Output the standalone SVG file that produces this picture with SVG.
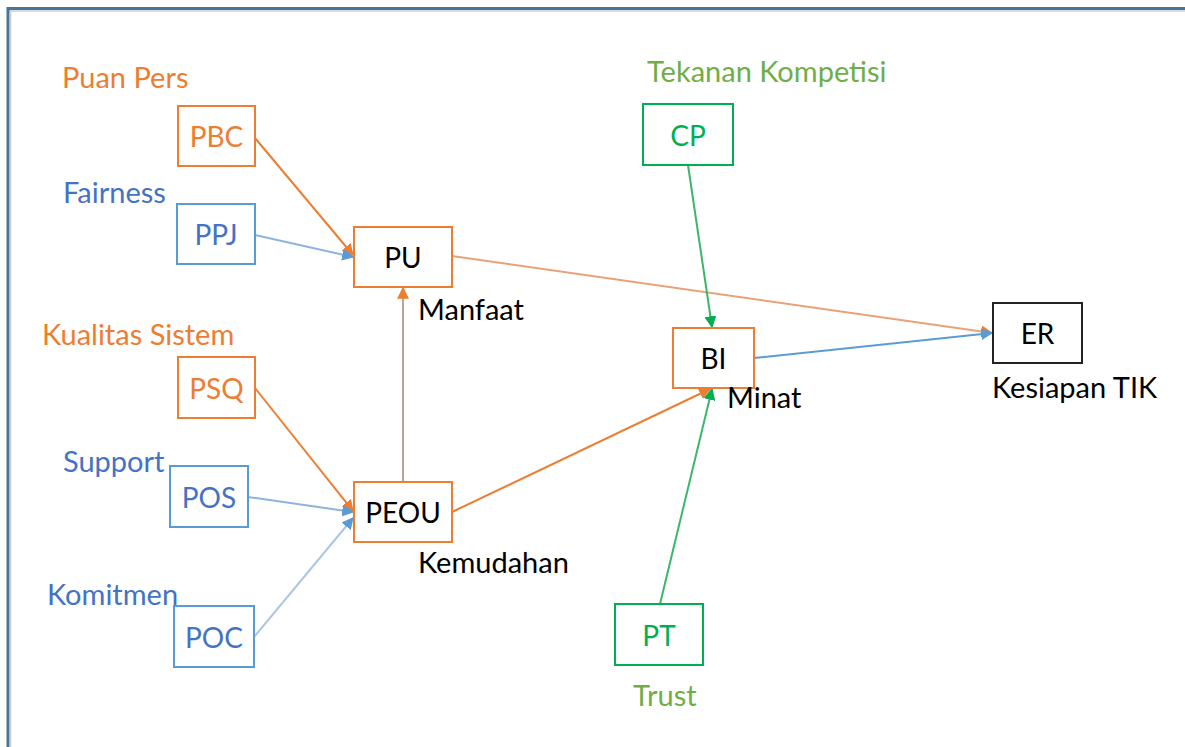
<svg xmlns="http://www.w3.org/2000/svg" width="1185" height="747" viewBox="0 0 1185 747">
  <style>
    text { font-family: Lato, "Open Sans", "Liberation Sans", sans-serif; }
    .box { fill: #ffffff; stroke-width: 2; }
    .or { stroke: #ed7d31; }
    .bl { stroke: #5b9bd5; }
    .gr { stroke: #00b050; }
    .bk { stroke: #222222; }
    .nt { font-size: 28px; text-anchor: middle; dominant-baseline: central; }
    .lbl { font-size: 29px; }
    .edge { fill: none; stroke-width: 2; }
  </style>
  <defs>
    <marker id="aOr" viewBox="0 0 10 10" refX="9" refY="5" markerWidth="6" markerHeight="6" orient="auto" markerUnits="strokeWidth">
      <path d="M0,0 L10,5 L0,10 z" fill="#ed7d31"/>
    </marker>
    <marker id="aBl" viewBox="0 0 10 10" refX="9" refY="5" markerWidth="6" markerHeight="6" orient="auto" markerUnits="strokeWidth">
      <path d="M0,0 L10,5 L0,10 z" fill="#5b9bd5"/>
    </marker>
    <marker id="aGr" viewBox="0 0 10 10" refX="9" refY="5" markerWidth="6" markerHeight="6" orient="auto" markerUnits="strokeWidth">
      <path d="M0,0 L10,5 L0,10 z" fill="#00b050"/>
    </marker>
  </defs>

  <rect width="1185" height="747" fill="#ffffff"/>
  <!-- frame -->
  <line x1="7" y1="8.5" x2="1185" y2="8.5" stroke="#4a7399" stroke-width="3"/>
  <line x1="7" y1="11" x2="1185" y2="11" stroke="#c8ccd2" stroke-width="1.5"/>
  <line x1="8" y1="7" x2="8" y2="747" stroke="#4a7399" stroke-width="3"/>
  <line x1="10.5" y1="11" x2="10.5" y2="747" stroke="#c8ccd2" stroke-width="1.5"/>

  <!-- connectors -->
  <g id="connectors">
    <line class="edge" x1="255" y1="138" x2="353" y2="255" stroke="#ed7d31" marker-end="url(#aOr)"/>
    <line class="edge" x1="255" y1="235" x2="353" y2="257" stroke="#8fb4dc" marker-end="url(#aBl)"/>
    <line class="edge" x1="403" y1="482" x2="403" y2="288" stroke="#b8a49a" marker-end="url(#aOr)"/>
    <line class="edge" x1="452" y1="256" x2="992" y2="333" stroke="#e8a27a" marker-end="url(#aOr)"/>
    <line class="edge" x1="688" y1="165" x2="712" y2="327" stroke="#3cb66a" stroke-width="1.5" marker-end="url(#aGr)"/>
    <line class="edge" x1="452" y1="512" x2="710" y2="389" stroke="#ed7d31" marker-end="url(#aOr)"/>
    <line class="edge" x1="660" y1="604" x2="712" y2="389" stroke="#3cb66a" stroke-width="1.5" marker-end="url(#aGr)"/>
    <line class="edge" x1="754" y1="358" x2="992" y2="333" stroke="#5b9bd5" marker-end="url(#aBl)"/>
    <line class="edge" x1="255" y1="388" x2="353" y2="511" stroke="#ed7d31" marker-end="url(#aOr)"/>
    <line class="edge" x1="248" y1="497" x2="353" y2="512" stroke="#8fb4dc" marker-end="url(#aBl)"/>
    <line class="edge" x1="254" y1="637" x2="353" y2="518" stroke="#a9c6e6" marker-end="url(#aBl)"/>
  </g>

  <!-- nodes -->
  <g id="node-PBC">
    <rect class="box or" x="178" y="106" width="77" height="60"/>
    <text class="nt" x="216.5" y="136" fill="#ed7d31">PBC</text>
    <text class="lbl" x="62" y="88" fill="#ed7d31">Puan Pers</text>
  </g>
  <g id="node-PPJ">
    <rect class="box bl" x="177" y="204" width="78" height="60"/>
    <text class="nt" x="216" y="234" fill="#4472c4">PPJ</text>
    <text class="lbl" x="63" y="203" fill="#4472c4">Fairness</text>
  </g>
  <g id="node-PU">
    <rect class="box or" x="354" y="227" width="98" height="60"/>
    <text class="nt" x="403" y="257" fill="#000000">PU</text>
    <text class="lbl" x="418" y="320" fill="#000000">Manfaat</text>
  </g>
  <g id="node-PSQ">
    <rect class="box or" x="178" y="357" width="77" height="61"/>
    <text class="nt" x="216.5" y="387.5" fill="#ed7d31">PSQ</text>
    <text class="lbl" x="42" y="345" fill="#ed7d31">Kualitas Sistem</text>
  </g>
  <g id="node-POS">
    <rect class="box bl" x="170" y="466" width="78" height="61"/>
    <text class="nt" x="209" y="496.5" fill="#4472c4">POS</text>
    <text class="lbl" x="63" y="472" fill="#4472c4">Support</text>
  </g>
  <g id="node-PEOU">
    <rect class="box or" x="354" y="482" width="98" height="60"/>
    <text class="nt" x="403" y="512" fill="#000000">PEOU</text>
    <text class="lbl" x="418" y="573" fill="#000000">Kemudahan</text>
  </g>
  <g id="node-POC">
    <rect class="box bl" x="174" y="606" width="80" height="61"/>
    <text class="nt" x="214" y="636.5" fill="#4472c4">POC</text>
    <text class="lbl" x="47" y="605" fill="#4472c4">Komitmen</text>
  </g>
  <g id="node-CP">
    <rect class="box gr" x="643" y="104" width="90" height="61"/>
    <text class="nt" x="688" y="134.5" fill="#00b050">CP</text>
    <text class="lbl" x="647" y="82" fill="#70ad47">Tekanan Kompetisi</text>
  </g>
  <g id="node-BI">
    <rect class="box or" x="673" y="328" width="81" height="60"/>
    <text class="nt" x="713.5" y="358" fill="#000000">BI</text>
    <text class="lbl" x="727" y="408" fill="#000000">Minat</text>
  </g>
  <g id="node-PT">
    <rect class="box gr" x="615" y="604" width="88" height="61"/>
    <text class="nt" x="659" y="634.5" fill="#00b050">PT</text>
    <text class="lbl" x="633" y="706" fill="#70ad47">Trust</text>
  </g>
  <g id="node-ER">
    <rect class="box bk" x="993" y="303" width="89" height="60"/>
    <text class="nt" x="1037.5" y="333" fill="#000000">ER</text>
    <text class="lbl" x="992" y="398" fill="#000000">Kesiapan TIK</text>
  </g>
</svg>
